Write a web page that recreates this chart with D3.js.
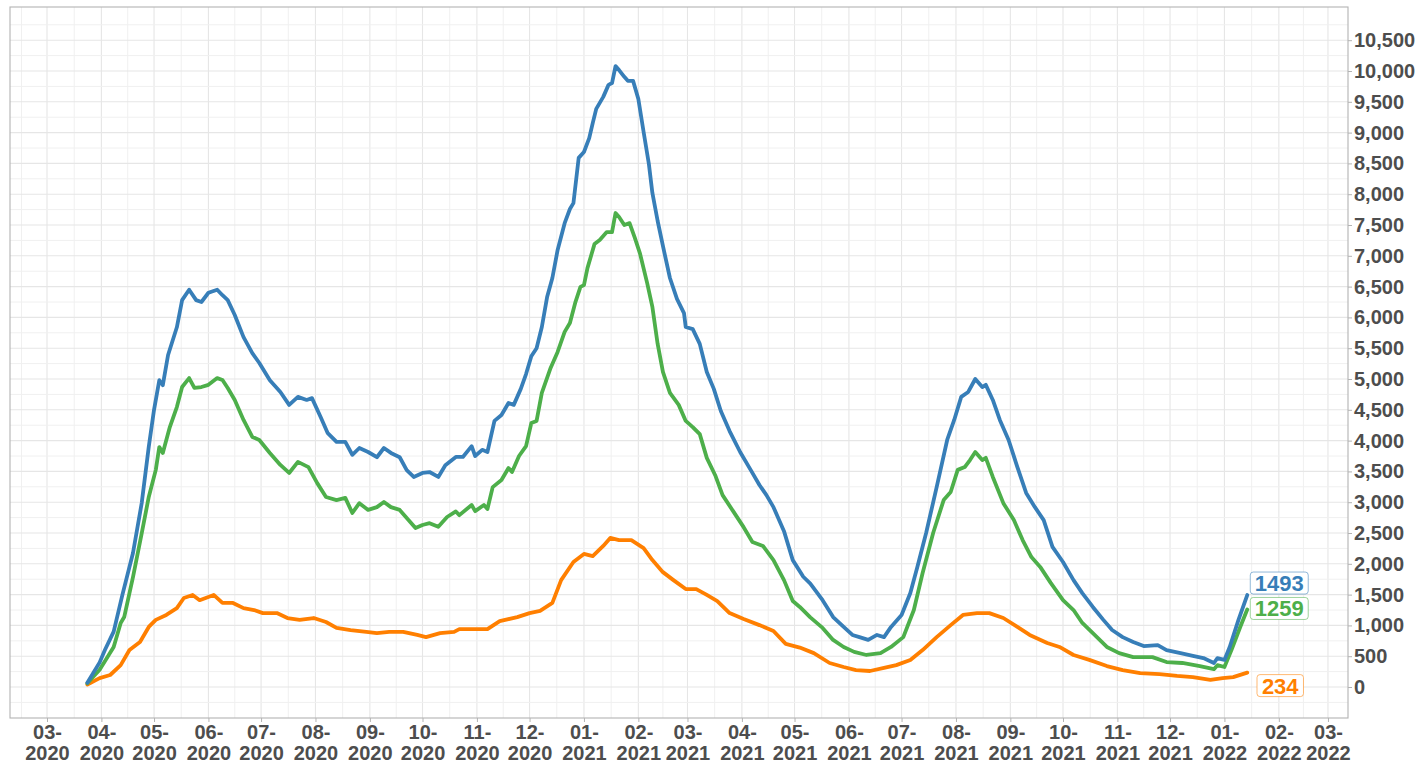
<!DOCTYPE html>
<html>
<head>
<meta charset="utf-8">
<script src="https://cdn.jsdelivr.net/npm/d3@7/dist/d3.min.js"></script>
<style>
  body { margin: 0; background: #fff; }
  text { font-family: "Liberation Sans", Arial, Helvetica, sans-serif; font-weight: bold; }
</style>
</head>
<body>
<svg id="chart" width="1418" height="764"></svg>
<script>
// ---------- DATA ----------
const seriesTotal = [
  ["2020-03-24",70],["2020-03-31",400],["2020-04-03",600],["2020-04-08",900],["2020-04-13",1500],["2020-04-19",2175],
  ["2020-04-24",2990],["2020-04-28",3900],["2020-05-01",4500],["2020-05-04",4980],["2020-05-06",4900],["2020-05-09",5390],
  ["2020-05-14",5840],["2020-05-17",6280],["2020-05-21",6450],["2020-05-25",6280],["2020-05-28",6250],["2020-06-01",6400],
  ["2020-06-06",6450],["2020-06-09",6360],["2020-06-12",6280],["2020-06-16",6040],["2020-06-21",5680],["2020-06-26",5420],
  ["2020-06-30",5260],["2020-07-06",4980],["2020-07-12",4790],["2020-07-17",4580],["2020-07-22",4710],["2020-07-27",4660],
  ["2020-07-30",4690],["2020-08-04",4380],["2020-08-08",4120],["2020-08-13",3980],["2020-08-18",3980],["2020-08-22",3770],
  ["2020-08-26",3880],["2020-08-31",3815],["2020-09-05",3730],["2020-09-09",3880],["2020-09-13",3800],["2020-09-18",3730],
  ["2020-09-22",3520],["2020-09-26",3410],["2020-10-01",3475],["2020-10-05",3490],["2020-10-10",3410],["2020-10-14",3600],
  ["2020-10-20",3735],["2020-10-24",3735],["2020-10-29",3910],["2020-10-31",3750],["2020-11-04",3850],["2020-11-07",3815],
  ["2020-11-11",4320],["2020-11-15",4415],["2020-11-19",4610],["2020-11-22",4580],["2020-11-26",4840],["2020-11-29",5080],
  ["2020-12-02",5370],["2020-12-05",5500],["2020-12-08",5845],["2020-12-11",6330],["2020-12-14",6640],["2020-12-17",7095],
  ["2020-12-21",7530],["2020-12-24",7760],["2020-12-26",7855],["2020-12-29",8590],["2021-01-01",8685],["2021-01-04",8910],
  ["2021-01-06",9155],["2021-01-08",9385],["2021-01-12",9580],["2021-01-15",9775],["2021-01-17",9805],["2021-01-19",10080],
  ["2021-01-21",10015],["2021-01-24",9905],["2021-01-26",9840],["2021-01-29",9840],["2021-02-01",9545],["2021-02-04",9010],
  ["2021-02-07",8490],["2021-02-09",8020],["2021-02-12",7565],["2021-02-15",7160],["2021-02-19",6640],["2021-02-23",6300],
  ["2021-02-27",6070],["2021-02-28",5845],["2021-03-04",5810],["2021-03-08",5570],["2021-03-12",5115],["2021-03-16",4840],
  ["2021-03-20",4480],["2021-03-25",4155],["2021-03-31",3815],["2021-04-06",3525],["2021-04-11",3280],["2021-04-15",3115],
  ["2021-04-19",2920],["2021-04-25",2530],["2021-04-30",2060],["2021-05-06",1790],["2021-05-10",1680],["2021-05-17",1410],
  ["2021-05-23",1135],["2021-05-29",975],["2021-06-03",845],["2021-06-07",810],["2021-06-12",765],["2021-06-17",845],
  ["2021-06-21",810],["2021-06-25",975],["2021-07-01",1170],["2021-07-06",1525],["2021-07-10",1950],["2021-07-15",2500],
  ["2021-07-21",3245],["2021-07-27",4010],["2021-07-31",4335],["2021-08-04",4710],["2021-08-08",4790],["2021-08-12",5000],
  ["2021-08-16",4870],["2021-08-18",4905],["2021-08-22",4660],["2021-08-26",4335],["2021-08-31",4010],["2021-09-05",3570],
  ["2021-09-10",3150],["2021-09-15",2920],["2021-09-20",2710],["2021-09-25",2275],["2021-10-01",2030],["2021-10-07",1735],
  ["2021-10-12",1525],["2021-10-18",1300],["2021-10-24",1090],["2021-10-29",925],["2021-11-04",810],["2021-11-10",730],
  ["2021-11-16",665],["2021-11-24",680],["2021-11-29",600],["2021-12-07",550],["2021-12-14",505],["2021-12-20",470],
  ["2021-12-26",390],["2021-12-28",470],["2022-01-01",440],["2022-01-04",650],["2022-01-09",1090],["2022-01-14",1493]
];

const seriesGreen = [
  ["2020-03-24",60],["2020-03-31",280],["2020-04-08",650],["2020-04-12",1040],["2020-04-14",1135],["2020-04-19",1785],
  ["2020-04-24",2500],["2020-04-28",3085],["2020-05-02",3525],["2020-05-04",3895],["2020-05-06",3800],["2020-05-10",4220],
  ["2020-05-14",4545],["2020-05-17",4870],["2020-05-21",5015],["2020-05-24",4855],["2020-05-28",4870],["2020-06-01",4905],
  ["2020-06-06",5015],["2020-06-09",4985],["2020-06-12",4855],["2020-06-16",4660],["2020-06-21",4335],["2020-06-26",4060],
  ["2020-06-30",4010],["2020-07-06",3800],["2020-07-12",3605],["2020-07-17",3475],["2020-07-22",3655],["2020-07-28",3570],
  ["2020-08-02",3310],["2020-08-07",3085],["2020-08-13",3035],["2020-08-18",3070],["2020-08-22",2825],["2020-08-26",2985],
  ["2020-08-31",2875],["2020-09-05",2920],["2020-09-09",3005],["2020-09-13",2920],["2020-09-18",2875],["2020-09-22",2745],
  ["2020-09-27",2580],["2020-10-01",2630],["2020-10-05",2660],["2020-10-10",2600],["2020-10-15",2760],["2020-10-20",2850],
  ["2020-10-22",2790],["2020-10-29",2955],["2020-10-31",2855],["2020-11-05",2955],["2020-11-07",2890],["2020-11-10",3245],
  ["2020-11-15",3360],["2020-11-19",3555],["2020-11-21",3490],["2020-11-25",3750],["2020-11-29",3910],["2020-12-02",4285],
  ["2020-12-05",4320],["2020-12-08",4775],["2020-12-13",5180],["2020-12-17",5440],["2020-12-21",5765],["2020-12-24",5910],
  ["2020-12-27",6235],["2020-12-30",6495],["2021-01-01",6525],["2021-01-03",6800],["2021-01-07",7190],["2021-01-10",7255],
  ["2021-01-14",7385],["2021-01-17",7385],["2021-01-19",7695],["2021-01-21",7630],["2021-01-24",7500],["2021-01-27",7530],
  ["2021-01-30",7290],["2021-02-02",7030],["2021-02-06",6560],["2021-02-09",6170],["2021-02-12",5570],["2021-02-15",5115],
  ["2021-02-19",4775],["2021-02-24",4580],["2021-02-28",4320],["2021-03-04",4220],["2021-03-08",4105],["2021-03-12",3720],
  ["2021-03-17",3425],["2021-03-21",3115],["2021-03-27",2855],["2021-04-02",2595],["2021-04-07",2355],["2021-04-13",2290],
  ["2021-04-19",2060],["2021-04-25",1735],["2021-04-30",1395],["2021-05-04",1300],["2021-05-10",1130],["2021-05-17",960],
  ["2021-05-23",765],["2021-05-29",650],["2021-06-04",570],["2021-06-11",520],["2021-06-19",550],["2021-06-25",650],
  ["2021-07-02",810],["2021-07-08",1250],["2021-07-13",1850],["2021-07-19",2500],["2021-07-25",3035],["2021-07-29",3165],
  ["2021-08-02",3525],["2021-08-06",3570],["2021-08-09",3685],["2021-08-12",3815],["2021-08-16",3685],["2021-08-18",3720],
  ["2021-08-22",3410],["2021-08-28",2985],["2021-09-03",2710],["2021-09-08",2385],["2021-09-13",2110],["2021-09-18",1950],
  ["2021-09-24",1690],["2021-10-01",1410],["2021-10-07",1250],["2021-10-12",1040],["2021-10-18",875],["2021-10-26",650],
  ["2021-11-02",550],["2021-11-10",485],["2021-11-21",485],["2021-11-29",405],["2021-12-08",390],["2021-12-18",340],
  ["2021-12-26",290],["2021-12-28",355],["2022-01-01",325],["2022-01-05",600],["2022-01-10",975],["2022-01-14",1259]
];

const seriesOrange = [
  ["2020-03-24",40],["2020-03-31",145],["2020-04-06",195],["2020-04-12",355],["2020-04-17",600],["2020-04-23",730],
  ["2020-04-28",975],["2020-05-02",1090],["2020-05-08",1170],["2020-05-14",1280],["2020-05-18",1445],["2020-05-23",1495],
  ["2020-05-27",1410],["2020-06-04",1495],["2020-06-09",1365],["2020-06-15",1365],["2020-06-21",1280],["2020-06-27",1250],
  ["2020-07-02",1200],["2020-07-10",1200],["2020-07-16",1120],["2020-07-23",1090],["2020-07-31",1120],["2020-08-07",1055],
  ["2020-08-13",960],["2020-08-21",925],["2020-08-30",895],["2020-09-05",875],["2020-09-12",895],["2020-09-20",895],
  ["2020-09-28",845],["2020-10-03",810],["2020-10-11",875],["2020-10-19",895],["2020-10-22",940],["2020-10-30",940],
  ["2020-11-07",940],["2020-11-14",1070],["2020-11-24",1135],["2020-12-01",1200],["2020-12-07",1235],["2020-12-14",1365],
  ["2020-12-19",1735],["2020-12-26",2030],["2021-01-01",2160],["2021-01-06",2125],["2021-01-12",2290],["2021-01-16",2420],
  ["2021-01-21",2385],["2021-01-28",2385],["2021-02-04",2255],["2021-02-09",2060],["2021-02-15",1865],["2021-02-21",1735],
  ["2021-02-28",1590],["2021-03-06",1590],["2021-03-12",1495],["2021-03-18",1395],["2021-03-25",1200],["2021-04-02",1105],
  ["2021-04-11",1005],["2021-04-19",910],["2021-04-26",700],["2021-05-04",640],["2021-05-12",550],["2021-05-21",390],
  ["2021-05-29",325],["2021-06-05",275],["2021-06-13",260],["2021-06-21",310],["2021-06-28",355],["2021-07-06",440],
  ["2021-07-13",600],["2021-07-21",810],["2021-07-29",1005],["2021-08-05",1170],["2021-08-13",1200],["2021-08-20",1200],
  ["2021-08-28",1120],["2021-09-05",975],["2021-09-12",845],["2021-09-22",715],["2021-09-29",650],["2021-10-07",520],
  ["2021-10-16",440],["2021-10-26",340],["2021-11-04",275],["2021-11-14",225],["2021-11-25",210],["2021-12-05",180],
  ["2021-12-14",160],["2021-12-24",115],["2021-12-31",145],["2022-01-06",160],["2022-01-14",234]
];

const seriesColors = ["#377EB8", "#4DAF4A", "#FF7F00"];
const yTicks = [0,500,1000,1500,2000,2500,3000,3500,4000,4500,5000,5500,6000,6500,7000,7500,8000,8500,9000,9500,10000,10500];
const xTickStart = "2020-03-01", xTickEnd = "2022-03-01";
// label offsets (repel-like nudges, pixels)
const labelNudges = [[32,-12],[32,-1],[33,13]];

// ---------- LAYOUT ----------
const W = 1418, H = 764;
const panel = {left: 10, top: 7, right: 1348, bottom: 718};
const parse = d3.utcParse("%Y-%m-%d");

const x = d3.scaleUtc()
  .domain([new Date(Date.UTC(2020,1,8,22)), new Date(Date.UTC(2022,2,12,10))])
  .range([panel.left, panel.right]);
const y = d3.scaleLinear()
  .domain([-503, 11039])
  .range([panel.bottom, panel.top]);

const svg = d3.select("#chart");
svg.append("rect").attr("width", W).attr("height", H).attr("fill", "#fff");

const gridG = svg.append("g");
// x grid: major (month starts) + minor (midpoints)
const monthStarts = d3.utcMonth.range(new Date(Date.UTC(2020,0,1)), new Date(Date.UTC(2022,4,1)));
const minorX = [];
for (let i = 0; i < monthStarts.length - 1; i++) {
  minorX.push(new Date((+monthStarts[i] + +monthStarts[i+1]) / 2));
}
const inX = d => x(d) > panel.left && x(d) < panel.right;
gridG.selectAll(".xminor").data(minorX.filter(inX)).join("line")
  .attr("x1", d => x(d)).attr("x2", d => x(d)).attr("y1", panel.top).attr("y2", panel.bottom)
  .attr("stroke", "#f0f0f0").attr("stroke-width", 1);
gridG.selectAll(".xmajor").data(monthStarts.filter(inX)).join("line")
  .attr("x1", d => x(d)).attr("x2", d => x(d)).attr("y1", panel.top).attr("y2", panel.bottom)
  .attr("stroke", "#e6e6e6").attr("stroke-width", 1.1);
// y grid
const minorY = [];
for (let v = -250; v <= 11000; v += 500) minorY.push(v);
gridG.selectAll(".yminor").data(minorY.filter(v => y(v) > panel.top && y(v) < panel.bottom)).join("line")
  .attr("x1", panel.left).attr("x2", panel.right).attr("y1", d => y(d)).attr("y2", d => y(d))
  .attr("stroke", "#f0f0f0").attr("stroke-width", 1);
gridG.selectAll(".ymajor").data(yTicks).join("line")
  .attr("x1", panel.left).attr("x2", panel.right).attr("y1", d => y(d)).attr("y2", d => y(d))
  .attr("stroke", "#e6e6e6").attr("stroke-width", 1.1);

// lines
const line = d3.line().x(d => x(parse(d[0]))).y(d => y(d[1]));
const allSeries = [seriesTotal, seriesGreen, seriesOrange];
const drawOrder = [2, 1, 0];
drawOrder.forEach(i => {
  svg.append("path").datum(allSeries[i])
    .attr("d", line).attr("fill", "none")
    .attr("stroke", seriesColors[i]).attr("stroke-width", 3.8)
    .attr("stroke-linejoin", "round").attr("stroke-linecap", "round");
});

// panel border
svg.append("rect")
  .attr("x", panel.left).attr("y", panel.top)
  .attr("width", panel.right - panel.left).attr("height", panel.bottom - panel.top)
  .attr("fill", "none").attr("stroke", "#b3b3b3").attr("stroke-width", 1.1);

// right y axis
const yAxis = svg.append("g").attr("transform", `translate(${panel.right},0)`)
  .call(d3.axisRight(y).tickValues(yTicks).tickSize(4).tickPadding(2).tickFormat(d3.format(",")));
yAxis.select(".domain").remove();
yAxis.selectAll(".tick line").attr("stroke", "#b3b3b3");
yAxis.selectAll(".tick text").attr("fill", "#4d4d4d").style("font-size", "20px")
  .style("font-family", "'Liberation Sans', Arial, sans-serif").style("font-weight", "bold");

// bottom x axis
const xTicks = d3.utcMonth.range(parse(xTickStart), d3.utcDay.offset(parse(xTickEnd), 1));
const xAxis = svg.append("g").attr("transform", `translate(0,${panel.bottom})`)
  .call(d3.axisBottom(x).tickValues(xTicks).tickSize(4).tickFormat(""));
xAxis.select(".domain").remove();
xAxis.selectAll(".tick line").attr("stroke", "#b3b3b3");
xAxis.selectAll(".tick").each(function(d) {
  const t = d3.select(this).append("text").attr("fill", "#4d4d4d")
    .attr("text-anchor", "middle").style("font-size", "20px");
  t.append("tspan").attr("x", 0).attr("y", 20.5).text(d3.utcFormat("%m-")(d));
  t.append("tspan").attr("x", 0).attr("y", 42).text(d3.utcFormat("%Y")(d));
});

// end labels
allSeries.forEach((s, i) => {
  const last = s[s.length - 1];
  const cx = x(parse(last[0])) + labelNudges[i][0];
  const cy = y(last[1]) + labelNudges[i][1];
  const g = svg.append("g");
  const txt = g.append("text").attr("x", cx).attr("y", cy).attr("dy", "0.36em")
    .attr("text-anchor", "middle").attr("fill", seriesColors[i])
    .style("font-size", "22px").text(String(last[1]));
  const bb = txt.node().getBBox();
  g.insert("rect", "text")
    .attr("x", cx - bb.width / 2 - 4.5).attr("y", cy - 11)
    .attr("width", bb.width + 9).attr("height", 22)
    .attr("rx", 3).attr("ry", 3)
    .attr("fill", "#fff").attr("stroke", seriesColors[i]).attr("stroke-opacity", 0.55).attr("stroke-width", 1);
});
</script>
</body>
</html>
